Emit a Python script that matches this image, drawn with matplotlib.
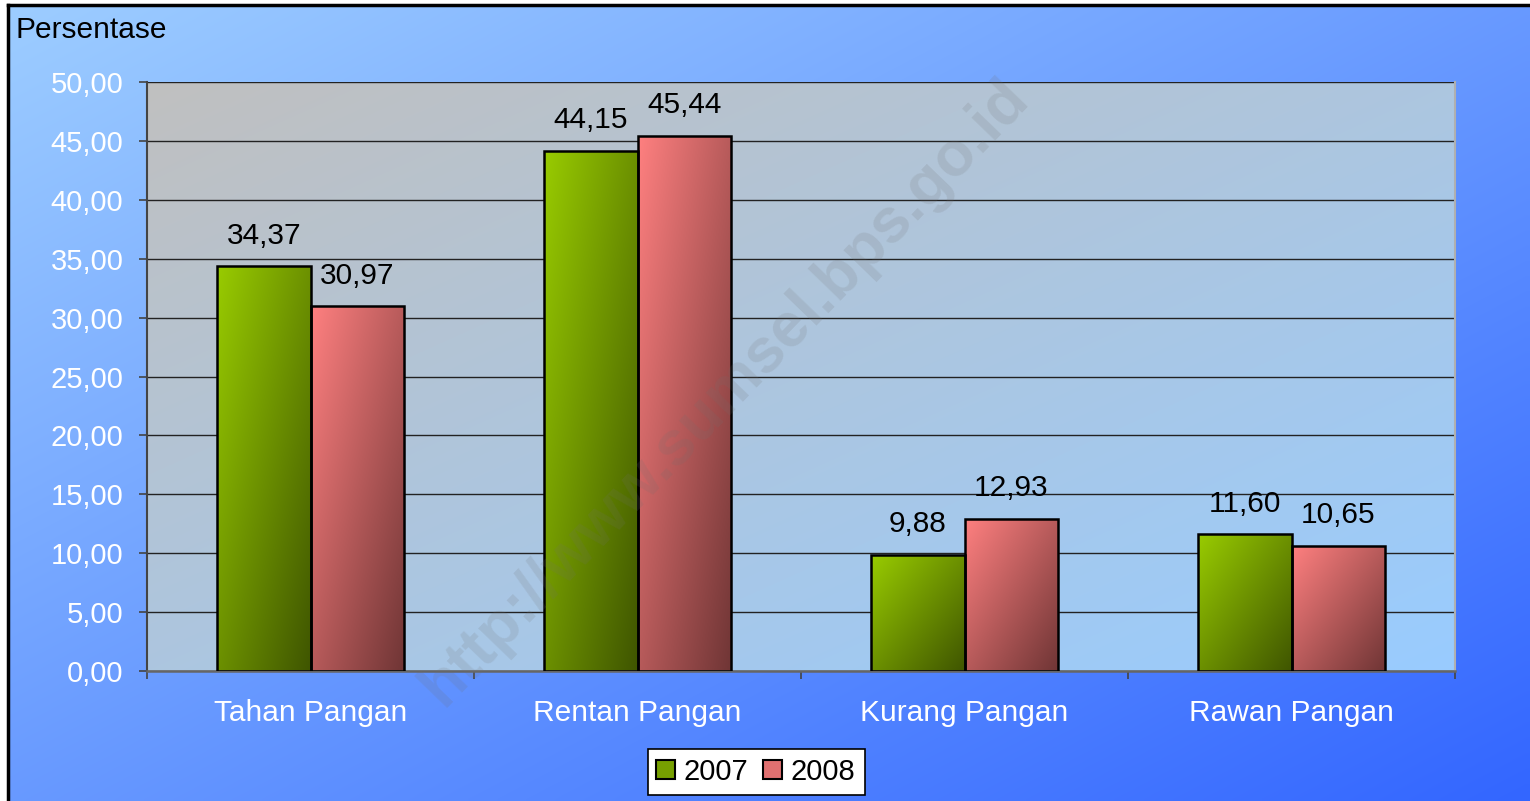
import numpy as np
import matplotlib
matplotlib.use("Agg")
import matplotlib.pyplot as plt
from matplotlib.patches import Patch
from matplotlib.lines import Line2D
from matplotlib.ticker import FuncFormatter, MultipleLocator

plt.rcParams['font.family'] = ['Liberation Sans', 'DejaVu Sans']

categories = ["Tahan Pangan", "Rentan Pangan", "Kurang Pangan", "Rawan Pangan"]
years = ["2007", "2008"]
vals_2007 = [34.37, 44.15, 9.88, 11.60]
vals_2008 = [30.97, 45.44, 12.93, 10.65]


def hexrgb(h):
    h = h.lstrip('#')
    return np.array([int(h[i:i + 2], 16) / 255 for i in (0, 2, 4)])


def diag_grad(c1, c2, n=200):
    # top-left c1 -> bottom-right c2
    x = np.linspace(0, 1, n)
    xx, yy = np.meshgrid(x, x)
    t = (xx + yy) / 2
    a, b = hexrgb(c1), hexrgb(c2)
    return a[None, None, :] * (1 - t[..., None]) + b[None, None, :] * t[..., None]


fig = plt.figure(figsize=(15.3, 8.01), dpi=100)
fig.patch.set_facecolor('white')

# background of the chart area
bg = fig.add_axes([8 / 1530, 0, 1 - 8 / 1530, 1 - 5 / 801])
bg.set_zorder(-2)
bg.imshow(diag_grad('#9DCDFF', '#3366FF'), extent=[0, 1, 0, 1], aspect='auto',
          interpolation='bilinear')
bg.set_xlim(0, 1)
bg.set_ylim(0, 1)
bg.axis('off')
fig.add_artist(Line2D([8 / 1530, 8 / 1530], [0, 1 - 5 / 801], color='black', lw=2.5))
fig.add_artist(Line2D([8 / 1530, 1], [1 - 5 / 801, 1 - 5 / 801], color='black', lw=2.5))

ax = fig.add_axes([147 / 1530, 1 - 671 / 801, (1455 - 147) / 1530, (671 - 82) / 801])
ax.patch.set_visible(False)
ax.imshow(diag_grad('#C0C0C0', '#99CCFF'), extent=[0, 1, 0, 1], aspect='auto',
          transform=ax.transAxes, interpolation='bilinear', zorder=0)

x = np.arange(len(categories))
w = 1 / 3.5
b1 = ax.bar(x - w / 2, vals_2007, w, facecolor='none', edgecolor='black', lw=1.8, zorder=3)
b2 = ax.bar(x + w / 2, vals_2008, w, facecolor='none', edgecolor='black', lw=1.8, zorder=3)

for bars, cols in ((b1, ('#99CC00', '#3F5500')), (b2, ('#FF8080', '#6F3535'))):
    for r in bars:
        x0, hgt, wd = r.get_x(), r.get_height(), r.get_width()
        im = ax.imshow(diag_grad(*cols), extent=[x0, x0 + wd, 0, hgt], aspect='auto',
                       interpolation='bilinear', zorder=2)
        im.set_clip_path(r)

for bars, vals in ((b1, vals_2007), (b2, vals_2008)):
    for r, v in zip(bars, vals):
        ax.annotate(f"{v:.2f}".replace('.', ','), (r.get_x() + r.get_width() / 2, v),
                    xytext=(0, 22), textcoords='offset points', ha='center', va='center',
                    fontsize=21.5, color='black', zorder=5)

ax.set_xlim(-0.5, len(categories) - 0.5)
ax.set_ylim(0, 50)
ax.yaxis.set_major_locator(MultipleLocator(5))
ax.yaxis.set_major_formatter(FuncFormatter(lambda v, p: f"{v:.2f}".replace('.', ',')))
ax.grid(axis='y', color='#222222', lw=1, zorder=1)
ax.set_axisbelow(True)
ax.tick_params(axis='y', length=6, width=1.2, color='#444444', labelcolor='white',
               labelsize=21, pad=11)

ax.set_xticks(x)
ax.set_xticklabels(categories)
ax.set_xticks(np.arange(len(categories) + 1) - 0.5, minor=True)
ax.tick_params(axis='x', which='major', length=0, labelcolor='white', labelsize=21.5, pad=20)
ax.tick_params(axis='x', which='minor', length=6, width=1.2, color='#444444')

ax.spines['top'].set_visible(False)
ax.spines['right'].set_color('#B0B0B0')
ax.spines['right'].set_linewidth(1.5)
ax.spines['left'].set_color('#444444')
ax.spines['left'].set_linewidth(1.5)
ax.spines['bottom'].set_color('#666666')
ax.spines['bottom'].set_linewidth(1.8)

fig.text(15 / 1530, 1 - 30 / 801, "Persentase", fontsize=21.5, color='black',
         ha='left', va='center')

# watermark
fig.text(725 / 1530, 1 - 392 / 801, "http://www.sumsel.bps.go.id", fontsize=45,
         fontweight='bold', color='#707070', alpha=0.16, rotation=46,
         ha='center', va='center', zorder=10)

handles = [Patch(facecolor='#77A000', edgecolor='black', lw=1.5),
           Patch(facecolor='#E07070', edgecolor='black', lw=1.5)]
leg = fig.legend(handles, years, loc='center', bbox_to_anchor=(756 / 1530, 1 - 772 / 801),
                 ncol=2, fontsize=21, frameon=True, fancybox=False, handlelength=0.65,
                 handleheight=0.65, handletextpad=0.3, columnspacing=0.5,
                 borderpad=0.3, edgecolor='black', facecolor='white', framealpha=1)
leg.get_frame().set_linewidth(1.2)

fig.savefig("out.png", dpi=100)
